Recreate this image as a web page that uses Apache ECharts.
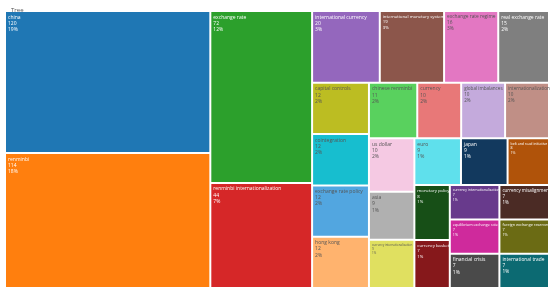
<!DOCTYPE html>
<html>
<head>
<meta charset="utf-8">
<script src="https://cdn.jsdelivr.net/npm/echarts@6/dist/echarts.min.js"></script>
<style>html,body{margin:0;padding:0;background:#fff;}#c{width:550px;height:288px;}</style>
</head>
<body>
<div id="c"></div>
<script>
// Ordered by value (desc), ties alphabetical
const names = ["china","renminbi","exchange rate","renminbi internationalization","international currency","international monetary system","exchange rate regime","real exchange rate","capital controls","cointegration","exchange rate policy","hong kong","chinese renminbi","currency","global imbalances","internationalization","us dollar","asia","currency internationalisation","euro","japan","belt and road initiative","monetary policy","currency basket","currency internationalization","currency misalignment","equilibrium exchange rate","financial crisis","foreign exchange reserves","international trade"];
const values = [120,114,72,44,20,19,16,15,12,12,12,12,11,10,10,10,10,9,9,9,9,8,8,7,7,7,7,7,7,7];

const colors = {"china":"#1f77b4","renminbi":"#ff7f0e","exchange rate":"#2ca02c","renminbi internationalization":"#d62728","international currency":"#9467bd","international monetary system":"#8c564b","exchange rate regime":"#e377c2","real exchange rate":"#7f7f7f","capital controls":"#bcbd22","cointegration":"#17becf","exchange rate policy":"#52a6e0","hong kong":"#ffb36e","chinese renminbi":"#59d15e","currency":"#e87878","global imbalances":"#c4aadc","internationalization":"#c08f86","us dollar":"#f5c9e3","euro":"#5fe0ec","japan":"#12395e","asia":"#b0b0b0","belt and road initiative":"#b0530a","monetary policy":"#174f17","currency internationalisation":"#e0e060","currency internationalization":"#683a8c","currency misalignment":"#4b2b25","equilibrium exchange rate":"#cf2a9c","foreign exchange reserves":"#6b6b14","currency basket":"#86181b","financial crisis":"#4a4a4a","international trade":"#0c6a72"};
const darkText = ["capital controls","cointegration","exchange rate policy","hong kong","chinese renminbi","currency","global imbalances","internationalization","us dollar","euro","asia","currency internationalisation","exchange rate regime"];
const fontSizes = {"international monetary system":4.3,"exchange rate regime":4.8,"global imbalances":4.6,"internationalization":4.6,"currency internationalisation":3.0,"belt and road initiative":3.5,"monetary policy":4.3,"currency basket":4.3,"currency internationalization":3.5,"currency misalignment":4.5,"equilibrium exchange rate":3.7,"foreign exchange reserves":3.8,"international trade":4.8};

const total = values.reduce((a,b)=>a+b,0);
const data = names.map((n,i)=>{
  const fs = fontSizes[n] || 5;
  return {
    name:n, value:values[i],
    itemStyle:{color:colors[n]},
    label:{color: darkText.includes(n) ? '#555' : '#fff', fontSize: fs, lineHeight: fs + 1.2}
  };
});

const chart = echarts.init(document.getElementById('c'), null, {renderer:'canvas'});
chart.setOption({
  animation:false,
  title:{text:'Tree', left:6, top:2, textStyle:{fontSize:6, fontWeight:'normal', color:'#555', fontFamily:'Open Sans'}},
  series:[{
    type:'treemap',
    left:6, top:12, right:2, bottom:1,
    roam:false, nodeClick:false,
    squareRatio:1,
    breadcrumb:{show:false},
    sort:false,
    levels:[{itemStyle:{gapWidth:2, borderWidth:0, borderColor:'#fff'}}],
    itemStyle:{borderWidth:0, gapWidth:2},
    label:{show:true, position:'insideTopLeft', padding:[2,2], fontFamily:'Open Sans', fontSize:5, overflow:'none',
      formatter:p=> p.name + '\n' + p.value + '\n' + Math.round(p.value/total*100) + '%'},
    upperLabel:{show:false},
    data:data
  }]
});
</script>
</body>
</html>
